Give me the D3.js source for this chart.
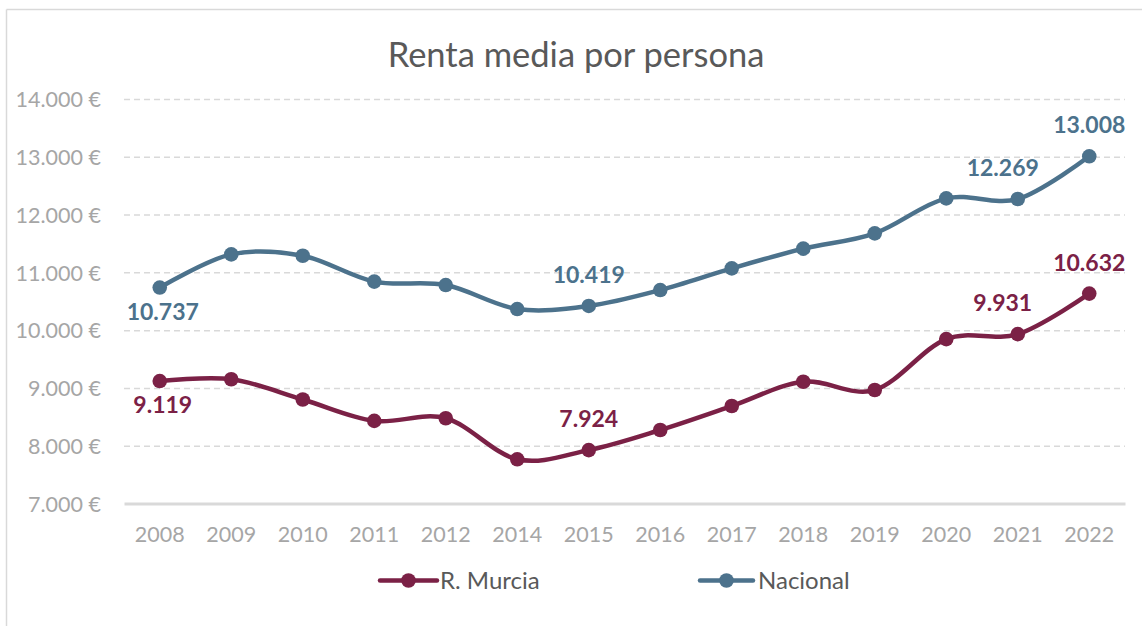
<!DOCTYPE html>
<html>
<head>
<meta charset="utf-8">
<script src="https://cdn.jsdelivr.net/npm/d3@7"></script>
<style>
  html, body { margin: 0; padding: 0; background: #ffffff; }
  svg { display: block; }
  text { font-family: Lato, "Open Sans", sans-serif; }
</style>
</head>
<body>
<svg id="chart" width="1142" height="626"></svg>
<script>
// ---- data ----
const title = "Renta media por persona";
const years = ["2008", "2009", "2010", "2011", "2012", "2014", "2015", "2016", "2017", "2018", "2019", "2020", "2021", "2022"];
const murcia = [9119, 9150, 8800, 8430, 8475, 7765, 7924, 8272, 8687, 9107, 8964, 9845, 9931, 10632];
const nacional = [10737, 11311, 11287, 10840, 10780, 10365, 10419, 10694, 11069, 11410, 11675, 12280, 12269, 13008];
const seriesNames = ["R. Murcia", "Nacional"];
const yTicks = [7000, 8000, 9000, 10000, 11000, 12000, 13000, 14000];
// which points carry a value label
const labelledMurcia = ["2008", "2015", "2021", "2022"];
const labelledNacional = ["2008", "2015", "2021", "2022"];

// ---- style ----
const colors = { "R. Murcia": "#7b2146", "Nacional": "#4c728c" };
const svg = d3.select("#chart");
const W = 1142, H = 626;
const plot = { left: 124, right: 1125, top: 99, bottom: 503.5 };

const es = d3.formatLocale({ decimal: ",", thousands: ".", grouping: [3], currency: ["", " €"] });
const fmtAxis = v => es.format(",")(v) + " €";
const fmtLabel = es.format(",");

// chart frame (top + left border)
svg.append("line").attr("x1", 6.5).attr("x2", W).attr("y1", 9.5).attr("y2", 9.5)
  .attr("stroke", "#d9d9d9").attr("stroke-width", 1.5);
svg.append("line").attr("x1", 6.5).attr("x2", 6.5).attr("y1", 9.5).attr("y2", H)
  .attr("stroke", "#d9d9d9").attr("stroke-width", 1.5);

// title
svg.append("text").attr("x", 576).attr("y", 67).attr("text-anchor", "middle")
  .attr("fill", "#595959").style("font-size", "34.5px").text(title);

// scales
const x = d3.scaleBand().domain(years).range([plot.left, plot.right]);
const cx = d => x(d) + x.bandwidth() / 2;
const y = d3.scaleLinear().domain([7000, 14000]).range([plot.bottom, plot.top]);

// gridlines (dashed)
const yAxis = d3.axisLeft(y).tickValues(yTicks).tickSize(0).tickFormat(fmtAxis);
const gy = svg.append("g").attr("transform", `translate(${plot.left},0)`).call(yAxis);
gy.select(".domain").remove();
gy.selectAll(".tick text").attr("x", -23).attr("dy", "0.36em")
  .attr("fill", "#a6a6a6").style("font-size", "21.5px").style("font-family", "Lato, sans-serif");
gy.selectAll(".tick").filter(d => d !== 7000).append("line")
  .attr("x1", 0).attr("x2", plot.right - plot.left)
  .attr("stroke", "#d9d9d9").attr("stroke-width", 1.5).attr("stroke-dasharray", "6,4");

// x axis
const xAxis = d3.axisBottom(x).tickSize(0);
const gx = svg.append("g").attr("transform", `translate(0,${plot.bottom})`).call(xAxis);
gx.select(".domain").attr("stroke", "#d9d9d9").attr("stroke-width", 3);
gx.selectAll(".tick text").attr("y", 38).attr("dy", 0)
  .attr("fill", "#a6a6a6").style("font-size", "21.5px").style("font-family", "Lato, sans-serif");

// series
const series = [
  { name: "R. Murcia", values: murcia, labelled: labelledMurcia },
  { name: "Nacional", values: nacional, labelled: labelledNacional }
];
const line = d3.line().x(d => cx(d.year)).y(d => y(d.v)).curve(d3.curveCardinal.tension(0));

// label placement (style): vertical side and small horizontal nudge
const labelPlace = {
  "2008": { side: "below", dx: 3 },
  "2015": { side: "above", dx: 0 },
  "2021": { side: "above", dx: -15 },
  "2022": { side: "above", dx: 0 }
};

series.forEach(s => {
  const pts = years.map((yr, i) => ({ year: yr, v: s.values[i] }));
  const g = svg.append("g");
  g.append("path").datum(pts).attr("d", line).attr("fill", "none")
    .attr("stroke", colors[s.name]).attr("stroke-width", 4.5).attr("stroke-linecap", "round");
  g.selectAll("circle").data(pts).join("circle")
    .attr("cx", d => cx(d.year)).attr("cy", d => y(d.v)).attr("r", 7.3)
    .attr("fill", colors[s.name]);
  g.selectAll("text.lbl").data(pts.filter(d => s.labelled.includes(d.year))).join("text")
    .attr("class", "lbl")
    .attr("x", d => cx(d.year) + labelPlace[d.year].dx)
    .attr("y", d => y(d.v) + (labelPlace[d.year].side === "above" ? -23 : 32))
    .attr("text-anchor", "middle").attr("fill", colors[s.name])
    .style("font-size", "23px").style("font-weight", "bold")
    .text(d => fmtLabel(d.v));
});

// legend
const legendItems = [
  { name: "R. Murcia", x1: 380, x2: 437, tx: 440 },
  { name: "Nacional", x1: 700, x2: 753, tx: 758 }
];
const ly = 580.5;
legendItems.forEach(it => {
  const g = svg.append("g");
  g.append("line").attr("x1", it.x1).attr("x2", it.x2).attr("y1", ly).attr("y2", ly)
    .attr("stroke", colors[it.name]).attr("stroke-width", 4.5).attr("stroke-linecap", "round");
  g.append("circle").attr("cx", (it.x1 + it.x2) / 2).attr("cy", ly).attr("r", 7.3).attr("fill", colors[it.name]);
  g.append("text").attr("x", it.tx).attr("y", ly + 8.5).attr("fill", "#595959")
    .style("font-size", "24px").text(it.name);
});
</script>
</body>
</html>
